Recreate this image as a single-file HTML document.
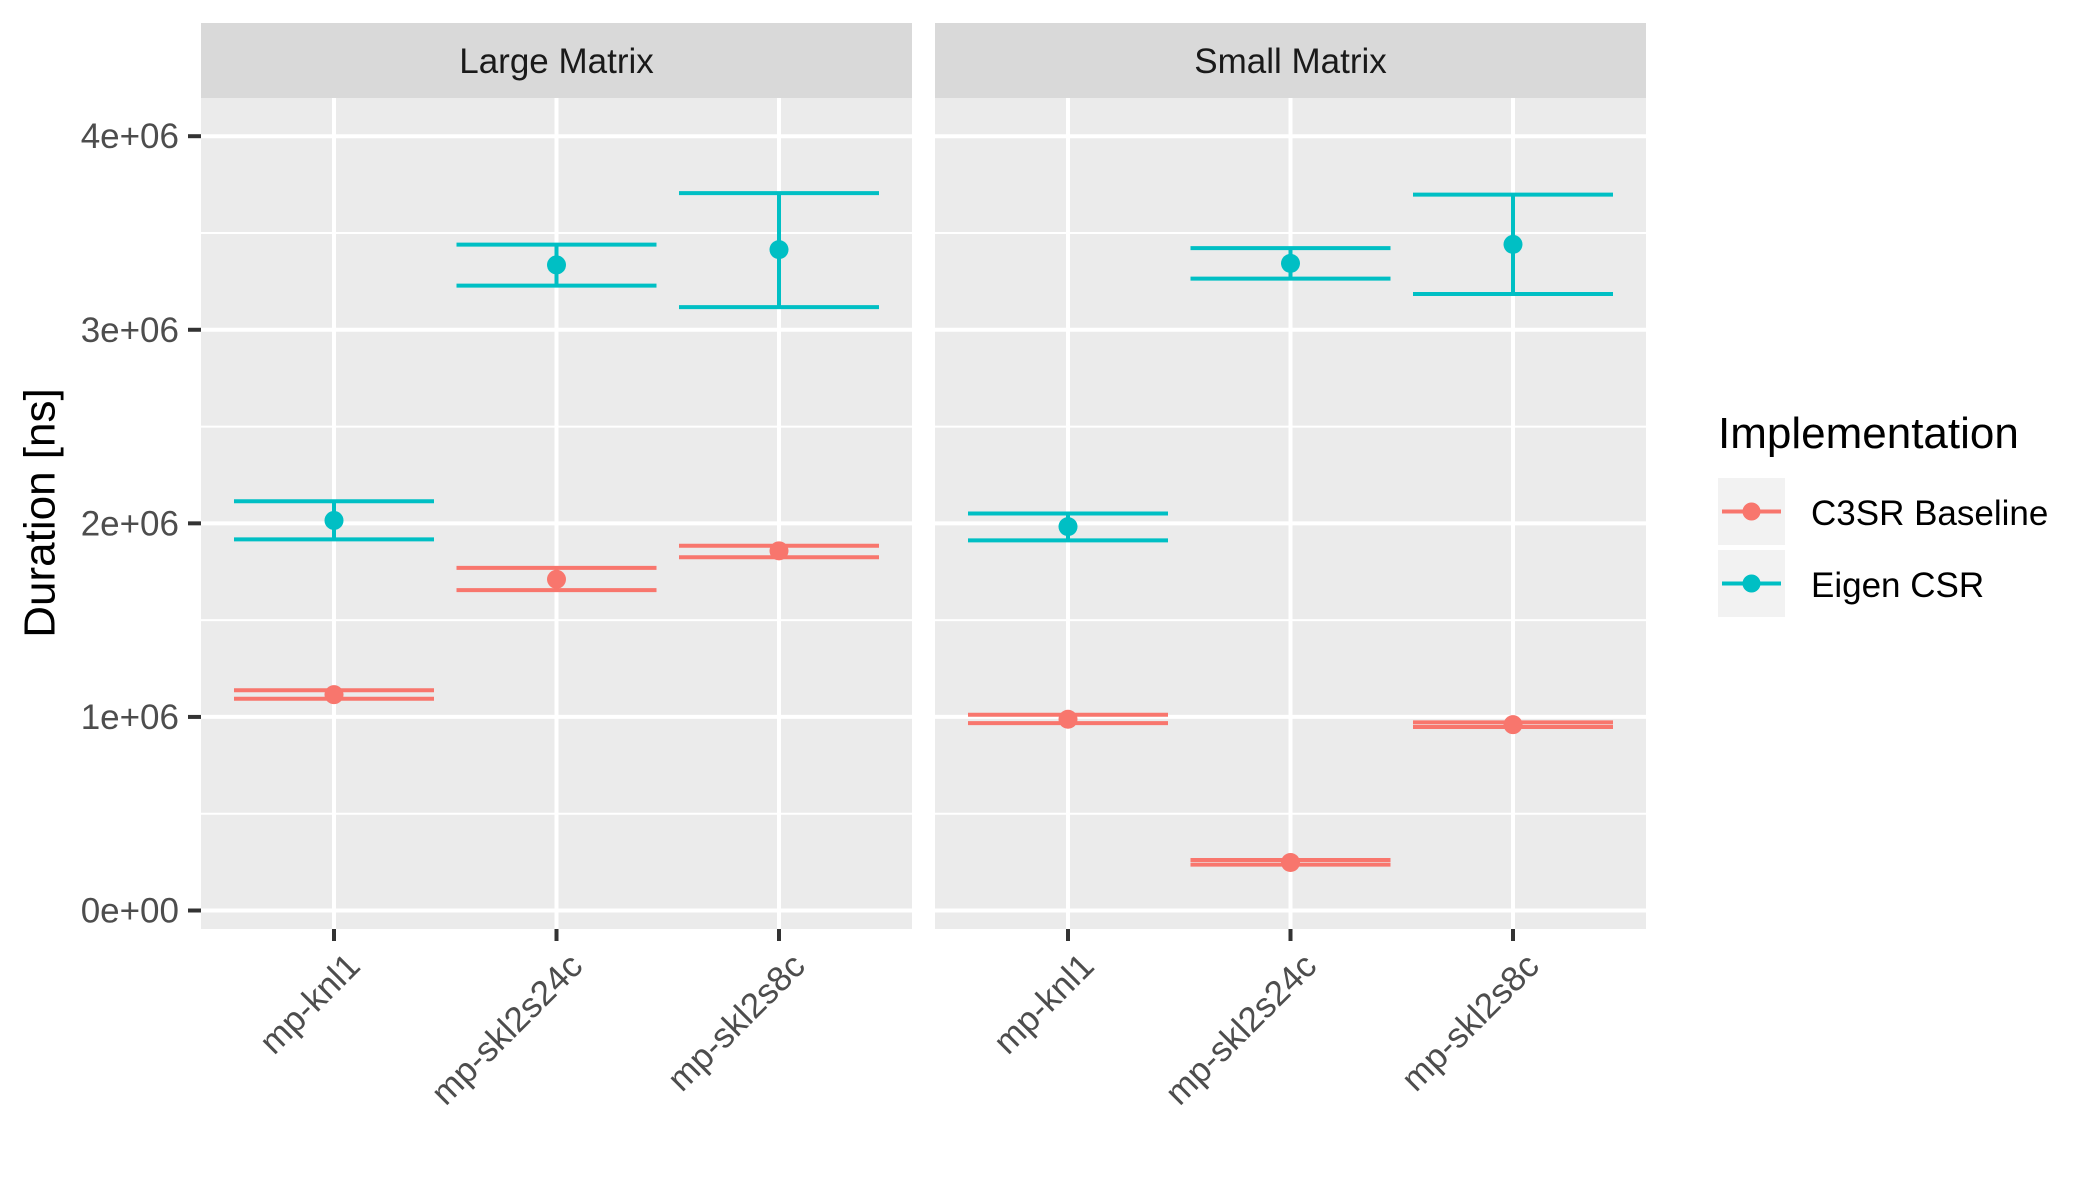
<!DOCTYPE html>
<html><head><meta charset="utf-8"><style>
html,body{margin:0;padding:0;background:#fff;}
svg{display:block;font-family:"Liberation Sans",sans-serif;}
</style></head><body>
<svg id="chart" width="2100" height="1200" viewBox="0 0 2100 1200">
<g id="panels"></g>
<text x="40" y="513" transform="rotate(-90 40 513)" text-anchor="middle" dominant-baseline="central" font-size="44" fill="#000">Duration [ns]</text>
<g>
<text x="1718" y="448" font-size="44" fill="#000">Implementation</text>
<g>
<rect x="1718" y="478" width="67" height="67" fill="#f2f2f2"/>
<line x1="1722" y1="511.5" x2="1781" y2="511.5" stroke="#F8766D" stroke-width="4"/>
<circle cx="1751.5" cy="511.5" r="9" fill="#F8766D"/>
<text x="1811" y="525" font-size="35" fill="#000">C3SR Baseline</text>
</g>
<g>
<rect x="1718" y="550" width="67" height="67" fill="#f2f2f2"/>
<line x1="1722" y1="583.5" x2="1781" y2="583.5" stroke="#00BFC4" stroke-width="4"/>
<circle cx="1751.5" cy="583.5" r="9" fill="#00BFC4"/>
<text x="1811" y="597" font-size="35" fill="#000">Eigen CSR</text>
</g>
</g>
</svg>
<script>
const panelNames = ["Large Matrix", "Small Matrix"];
const categories = ["mp-knl1", "mp-skl2s24c", "mp-skl2s8c"];
const yTicks = [0, 1e6, 2e6, 3e6, 4e6];
const yTickLabels = ["0e+00", "1e+06", "2e+06", "3e+06", "4e+06"];
const seriesNames = ["C3SR Baseline", "Eigen CSR"];
const seriesColors = ["#F8766D", "#00BFC4"];
// per panel, per category
const c3srMean = [[1.115e6, 1.711e6, 1.858e6], [0.988e6, 0.248e6, 0.960e6]];
const c3srLow  = [[1.094e6, 1.655e6, 1.825e6], [0.968e6, 0.237e6, 0.948e6]];
const c3srHigh = [[1.138e6, 1.770e6, 1.884e6], [1.011e6, 0.261e6, 0.972e6]];
const eigenMean = [[2.015e6, 3.335e6, 3.414e6], [1.983e6, 3.343e6, 3.441e6]];
const eigenLow  = [[1.917e6, 3.228e6, 3.117e6], [1.912e6, 3.264e6, 3.185e6]];
const eigenHigh = [[2.114e6, 3.440e6, 3.706e6], [2.051e6, 3.422e6, 3.698e6]];

const NS = "http://www.w3.org/2000/svg";
const panelLeft = [201, 935], panelW = 711, plotTop = 98, plotBottom = 929;
const y0px = 910.5, y4px = 136.2;
function yScale(v){ return y0px + (v / 4e6) * (y4px - y0px); }
function xPos(p, i){ return panelLeft[p] + 133 + i * 222.5; }
function mk(tag, attrs, parent){ const e=document.createElementNS(NS,tag); for(const k in attrs) e.setAttribute(k, attrs[k]); parent.appendChild(e); return e; }
const root = document.getElementById("panels");
for (let p = 0; p < 2; p++) {
  const g = mk("g", {}, root);
  
  
  const L = panelLeft[p];
  const strip = mk("rect", {x:L, y:23, width:panelW, height:75, fill:"#d9d9d9"}, g);
  
  
  const st = mk("text", {x:L+panelW/2, y:73, "text-anchor":"middle", "font-size":"35", fill:"#1a1a1a"}, g);
  st.textContent = panelNames[p];
  
  
  mk("rect", {x:L, y:plotTop, width:panelW, height:plotBottom-plotTop, fill:"#ebebeb"}, g);
  for (let k = 0; k < yTicks.length - 1; k++) {
    const yy = yScale((yTicks[k] + yTicks[k+1]) / 2);
    mk("line", {x1:L, x2:L+panelW, y1:yy, y2:yy, stroke:"#fff", "stroke-width":2}, g);
  }
  yTicks.forEach((t, k) => {
    const yy = yScale(t);
    const gl = mk("line", {x1:L, x2:L+panelW, y1:yy, y2:yy, stroke:"#fff", "stroke-width":4}, g);
    
    
    if (p === 0) {
      mk("line", {x1:L-13, x2:L, y1:yy, y2:yy, stroke:"#333", "stroke-width":4}, g);
      const tl = mk("text", {x:L-22, y:yy+12, "text-anchor":"end", "font-size":"35", fill:"#4d4d4d"}, g);
      tl.textContent = yTickLabels[k];
      
      
    }
  });
  categories.forEach((c, i) => {
    const x = xPos(p, i);
    mk("line", {x1:x, x2:x, y1:plotTop, y2:plotBottom, stroke:"#fff", "stroke-width":4}, g);
    mk("line", {x1:x, x2:x, y1:plotBottom, y2:plotBottom+12, stroke:"#333", "stroke-width":4}, g);
    const tx = x + 28, ty = 968;
    const tl = mk("text", {x:tx, y:ty, "text-anchor":"end", "font-size":"35", fill:"#4d4d4d", transform:`rotate(-45 ${tx} ${ty})`}, g);
    tl.textContent = c;
    
    
  });
  const sets = [[c3srMean, c3srLow, c3srHigh], [eigenMean, eigenLow, eigenHigh]];
  sets.forEach((s, si) => {
    const col = seriesColors[si];
    categories.forEach((c, i) => {
      const x = xPos(p, i), hw = 100;
      const yl = yScale(s[1][p][i]), yh = yScale(s[2][p][i]), ym = yScale(s[0][p][i]);
      const eg = mk("g", {}, g);
      
      
      mk("line", {x1:x-hw, x2:x+hw, y1:yh, y2:yh, stroke:col, "stroke-width":4}, eg);
      mk("line", {x1:x-hw, x2:x+hw, y1:yl, y2:yl, stroke:col, "stroke-width":4}, eg);
      mk("line", {x1:x, x2:x, y1:yh, y2:yl, stroke:col, "stroke-width":4}, eg);
      const pt = mk("circle", {cx:x, cy:ym, r:9.5, fill:col}, g);
      
      
    });
  });
}
</script>
</body></html>
